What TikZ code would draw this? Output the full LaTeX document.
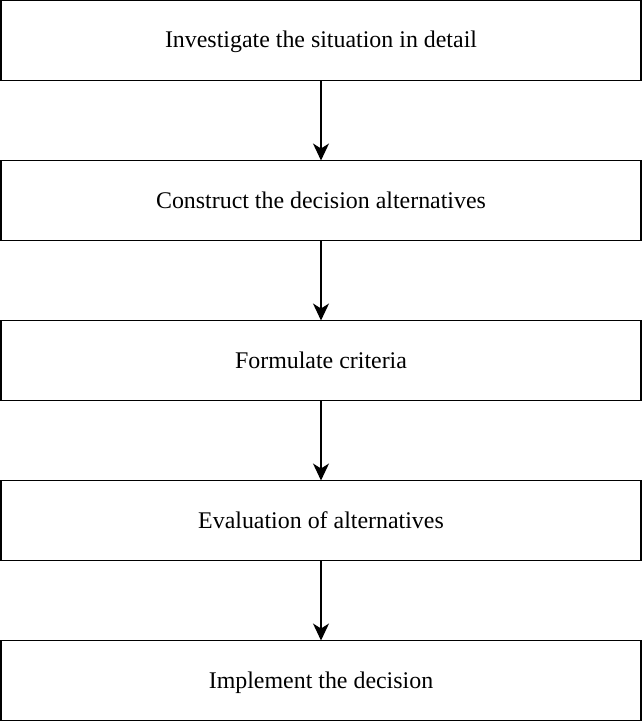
\documentclass[tikz,border=0pt]{standalone}
\usepackage{fontspec}
\setmainfont{Liberation Serif}
\usetikzlibrary{positioning,arrows.meta}
\begin{document}
\begin{tikzpicture}[x=1pt,y=1pt,
        stagebox/.style={draw,line width=1.2pt,minimum width=640pt,minimum height=80pt,inner sep=0pt,outer sep=0pt,text height=15pt,text depth=0pt,font=\fontsize{23.9}{28}\selectfont},
        flowarrow/.style={line width=1.2pt,-{Stealth[length=17pt,width=16pt,inset=5pt]}}]
        \useasboundingbox (0,0) rectangle (642,-722);
        \node[stagebox] (investigate) at (321,-40.5) {Investigate the situation in detail};
        \node[stagebox,below=80pt of investigate] (construct) {Construct the decision alternatives};
        \node[stagebox,below=80pt of construct] (criteria) {Formulate criteria};
        \node[stagebox,below=80pt of criteria] (evaluate) {Evaluation of alternatives};
        \node[stagebox,below=80pt of evaluate] (implement) {Implement the decision};
        \draw[flowarrow] (investigate) -- (construct);
        \draw[flowarrow] (construct) -- (criteria);
        \draw[flowarrow] (criteria) -- (evaluate);
        \draw[flowarrow] (evaluate) -- (implement);
\end{tikzpicture}
\end{document}
